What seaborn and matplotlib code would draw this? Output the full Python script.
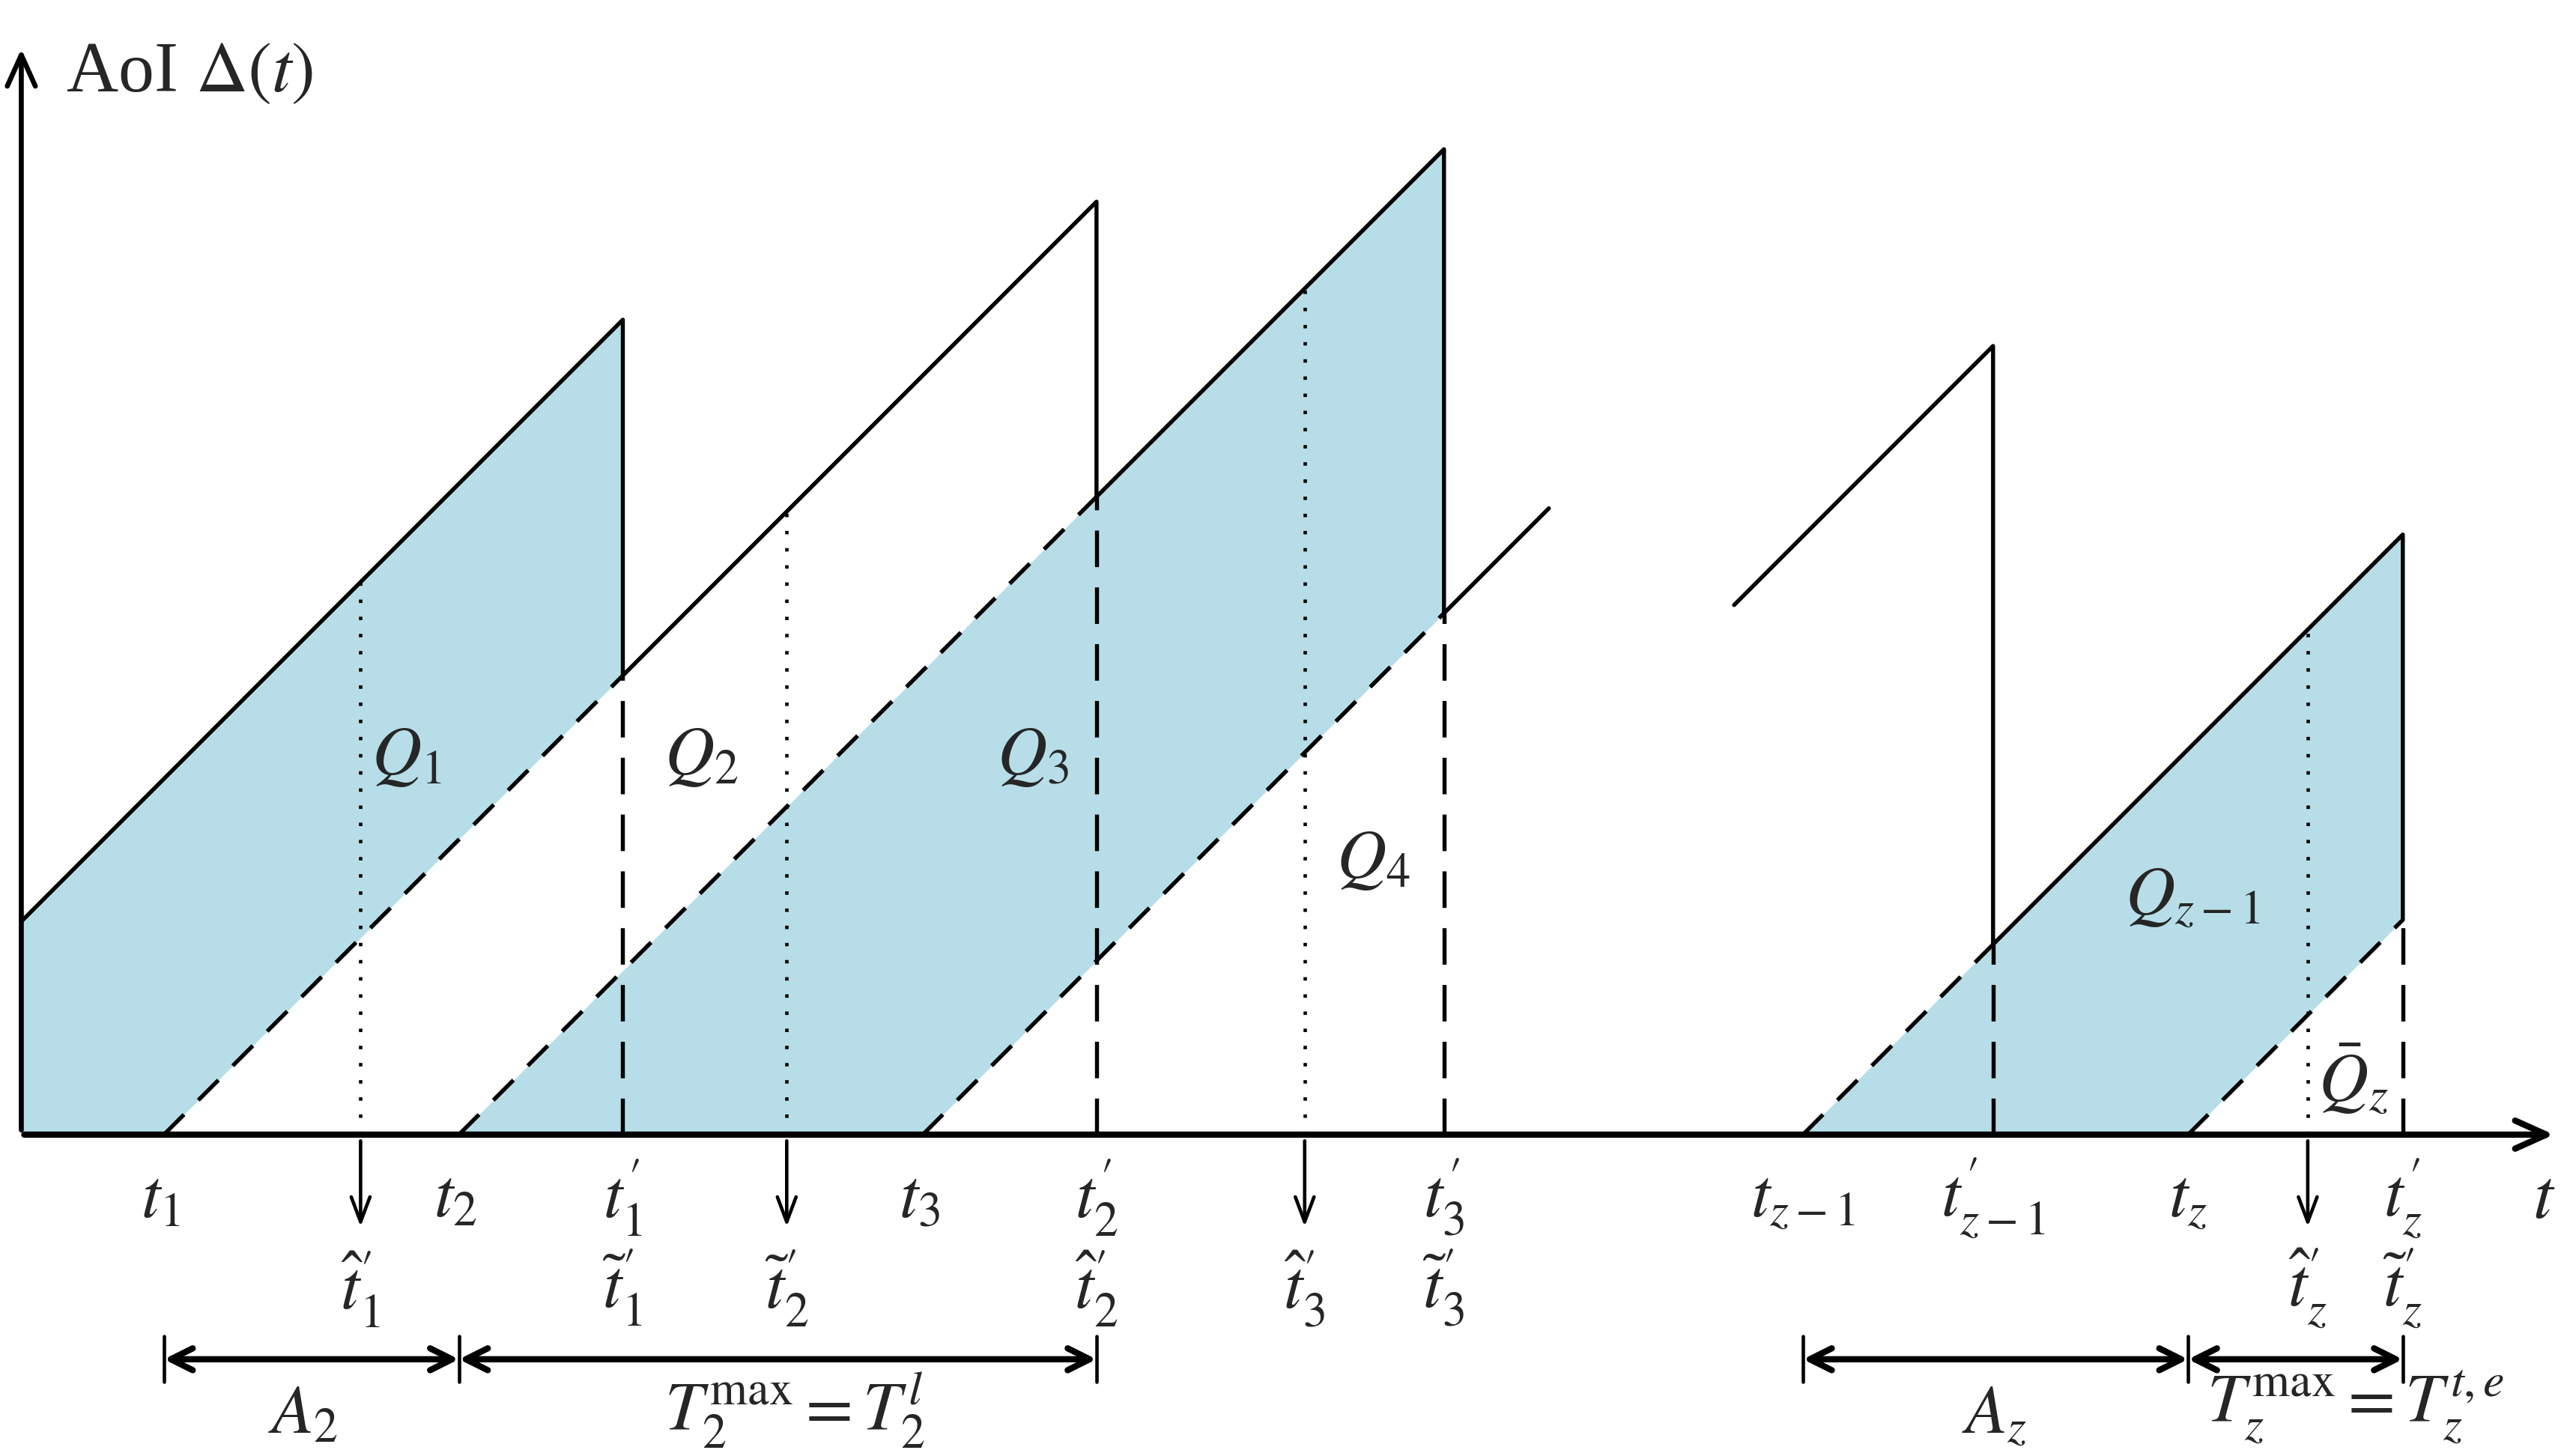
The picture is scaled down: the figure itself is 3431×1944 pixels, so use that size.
# AoI sawtooth diagram with served / unserved update areas

import numpy as np
import matplotlib.pyplot as plt
import seaborn as sns

# left block: generation times, delivery times, estimated delivery instants
t_gen = [100, 280, 563]        # t1, t2, t3
t_del = [380, 669, 881]        # t1', t2', t3'
t_est = [220, 480, 796]        # hat t1', tilde t2', hat t3'
age_start = 130                # AoI at x_start
x_start = 13
x_end_left = 945

# right block
tz_prev = 735                  # generation of update before t_{z-1}
tz_gen = [1100, 1335]          # t_{z-1}, t_z
tz_del = [1216, 1466]          # t'_{z-1}, t'_z
tz_est = [1408]                # hat t_z'
x_start_right = 1058

gen_labels = ['$t_1$', '$t_2$', '$t_3$']
del_labels = ["$t_1'$", "$t_2'$", "$t_3'$"]
del_labels2 = ["$\\tilde{t}_1'$", "$\\hat{t}_2'$", "$\\tilde{t}_3'$"]
est_labels = ["$\\hat{t}_1'$", "$\\tilde{t}_2'$", "$\\hat{t}_3'$"]
genz_labels = ['$t_{z-1}$', '$t_z$']
delz_labels = ["$t_{z-1}'$", "$t_z'$"]
estz_labels = ["$\\hat{t}_z'$"]

FILL = '#B7DEE8'

sns.set_style('white')
plt.rcParams['font.family'] = ['Liberation Serif', 'DejaVu Serif']
plt.rcParams['mathtext.fontset'] = 'stix'

fig = plt.figure(figsize=(3431 / 300, 1944 / 300), dpi=300)
ax = fig.add_axes([0, 0, 1, 1])
ax.set_xlim(0, 1568)
ax.set_ylim(692 - 888, 692)
ax.axis('off')


def sawtooth(x0, g0, gens, dels, x_end=None):
    xs, ys = [x0], [x0 - g0]
    prev = g0
    for g, d in zip(gens, dels):
        xs += [d, d]
        ys += [d - prev, d - g]
        prev = g
    if x_end is not None:
        xs.append(x_end)
        ys.append(x_end - prev)
    return xs, ys


g0 = x_start - age_start

# shaded areas Q1, Q3, Q_{z-1}
bands = [(g0, t_gen[0], x_start, t_del[0]),
         (t_gen[1], t_gen[2], t_gen[1], t_del[2]),
         (tz_gen[0], tz_gen[1], tz_gen[0], tz_del[1])]
for ug, lg, x0, x1 in bands:
    xx = np.array([x0, lg, x1], dtype=float)
    ax.fill_between(xx, np.maximum(0, xx - lg), xx - ug, color=FILL, lw=0)

# solid sawtooth
xs, ys = sawtooth(x_start, g0, t_gen, t_del, x_end_left)
sns.lineplot(x=xs, y=ys, sort=False, estimator=None, color='black', lw=1.3, ax=ax)
xs, ys = sawtooth(x_start_right, tz_prev, tz_gen, tz_del)
sns.lineplot(x=xs, y=ys, sort=False, estimator=None, color='black', lw=1.3, ax=ax)

# dashed generation ramps and dashed verticals
for g, d in list(zip(t_gen, t_del)) + list(zip(tz_gen, tz_del)):
    ax.plot([g, d], [0, d - g], color='black', lw=1.3, ls=(0, (7, 5)))
    ax.plot([d, d], [0, d - g], color='black', lw=1.3, ls=(0, (9, 5)))


def age_at(x, gens, dels, first):
    prev = first
    for g, d in zip(gens, dels):
        if x < d:
            return x - prev
        prev = g
    return x - prev


# dotted verticals + down arrows
for x in t_est:
    h = age_at(x, t_gen, t_del, g0)
    ax.plot([x, x], [0, h], color='black', lw=1.1, ls=(0, (1, 4)))
for x in tz_est:
    h = age_at(x, tz_gen, tz_del, tz_prev)
    ax.plot([x, x], [0, h], color='black', lw=1.1, ls=(0, (1, 4)))
for x in t_est + tz_est:
    ax.annotate('', xy=(x, -60), xytext=(x, 0),
                arrowprops=dict(arrowstyle='->,head_length=0.8,head_width=0.3', lw=1.1, color='black'))

# axes with arrows
ax.annotate('', xy=(1562, 0), xytext=(x_start - 2, 0),
            arrowprops=dict(arrowstyle='->,head_length=1.0,head_width=0.45', lw=2.0, color='black'))
ax.annotate('', xy=(x_start, 666), xytext=(x_start, -1),
            arrowprops=dict(arrowstyle='->,head_length=1.0,head_width=0.45', lw=1.6, color='black'))

ax.text(40, 647, 'AoI $\\Delta(t)$', fontsize=23, ha='left', va='center',
        family=['Liberation Serif', 'DejaVu Serif'])
ax.text(1552, -40, '$t$', fontsize=23, ha='center', va='center')

fs = 22
row1, row2 = -40, -94
for x, s in zip(t_gen, gen_labels):
    ax.text(x - 2, row1, s, fontsize=fs, ha='center', va='center')
for x, s in zip(t_del, del_labels):
    ax.text(x, row1 + 1, s, fontsize=fs, ha='center', va='center')
for x, s in zip(t_del, del_labels2):
    ax.text(x, row2, s, fontsize=fs, ha='center', va='center')
for x, s in zip(t_est, est_labels):
    ax.text(x, row2, s, fontsize=fs, ha='center', va='center')
for x, s in zip(tz_gen, genz_labels):
    ax.text(x, row1, s, fontsize=fs, ha='center', va='center')
for x, s in zip(tz_del, delz_labels):
    ax.text(x, row1 + 1, s, fontsize=fs, ha='center', va='center')
for x, s in zip(tz_est, estz_labels):
    ax.text(x, row2, s, fontsize=fs, ha='center', va='center')
ax.text(tz_del[1], row2, "$\\tilde{t}_z'$", fontsize=fs, ha='center', va='center')

# area labels
ax.text(248, 230, '$Q_1$', fontsize=fs, ha='center', va='center')
ax.text(428, 230, '$Q_2$', fontsize=fs, ha='center', va='center')
ax.text(630, 230, '$Q_3$', fontsize=fs, ha='center', va='center')
ax.text(838, 167, '$Q_4$', fontsize=fs, ha='center', va='center')
ax.text(1338, 144, '$Q_{z-1}$', fontsize=fs, ha='center', va='center')
ax.text(1436, 34, '$\\bar{Q}_z$', fontsize=fs, ha='center', va='center')

# interval arrows
yb = -137
spans = [(t_gen[0], t_gen[1]), (t_gen[1], t_del[1]),
         (tz_gen[0], tz_gen[1]), (tz_gen[1], tz_del[1])]
for a, b in spans:
    ax.annotate('', xy=(b, yb), xytext=(a, yb),
                arrowprops=dict(arrowstyle='<->,head_length=0.7,head_width=0.35', lw=2.0,
                                color='black', shrinkA=0, shrinkB=0))
for x in [t_gen[0], t_gen[1], t_del[1], tz_gen[0], tz_gen[1], tz_del[1]]:
    ax.plot([x, x], [yb + 14, yb - 14], color='black', lw=1.1)

ax.text(185, -172, '$A_2$', fontsize=fs, ha='center', va='center')
ax.text(485, -168, '$T_2^{\\max} = T_2^{l}$', fontsize=fs, ha='center', va='center')
ax.text(1217, -172, '$A_z$', fontsize=fs, ha='center', va='center')
ax.text(1437, -166, '$T_z^{\\max} = T_z^{t,e}$', fontsize=fs, ha='center', va='center')

fig.savefig('out.png', dpi=300)
